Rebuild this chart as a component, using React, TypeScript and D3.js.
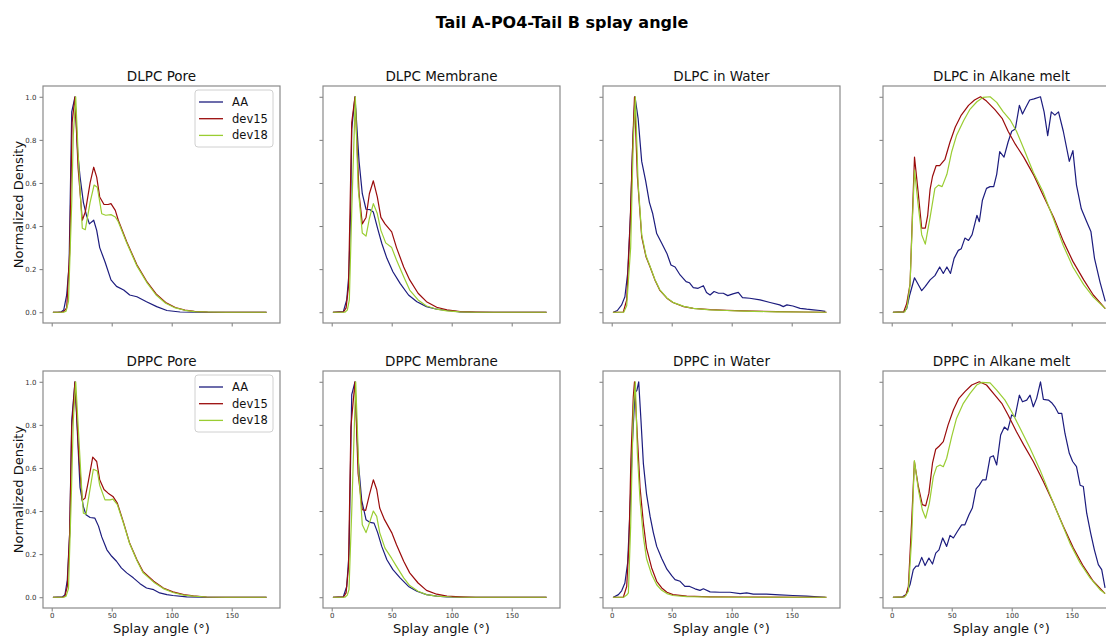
import React from 'react';
import * as d3 from 'd3';

// [angle, normalized density]
const dlpcPoreAA = [[1,0],[5,0],[8,0.002],[10,0.01],[12.5,0.08],[14.5,0.22],[16.7,0.93],[19.4,1.0],[21.7,0.74],[23.6,0.63],[26.4,0.51],[29,0.45],[31.4,0.41],[35,0.427],[37.5,0.38],[40,0.30],[44.4,0.234],[49.4,0.15],[54,0.12],[60,0.103],[65,0.08],[71,0.072],[79,0.049],[87.5,0.026],[96,0.008],[107,0.001],[120,0],[179,0]];
const dlpcPoreDev15 = [[1,0],[8,0],[10,0.003],[12.5,0.02],[15,0.28],[17,0.88],[19.4,1.0],[22,0.67],[25.5,0.427],[28,0.465],[32,0.60],[35,0.673],[37.5,0.627],[40,0.535],[43.6,0.50],[47,0.50],[49.4,0.504],[53,0.473],[55.5,0.427],[62.5,0.327],[71,0.22],[79,0.145],[87,0.085],[95,0.045],[103,0.022],[111,0.01],[119,0.004],[130,0.001],[145,0],[179,0]];
const dlpcPoreDev18 = [[1,0],[10,0],[12,0.005],[14,0.05],[16.7,0.51],[18,0.82],[20,1.0],[22,0.74],[23.6,0.57],[25.5,0.39],[28,0.383],[32,0.51],[35.3,0.59],[38,0.58],[41.7,0.457],[45,0.45],[49.4,0.453],[53,0.442],[55.5,0.42],[62.5,0.322],[71,0.215],[79,0.14],[87,0.08],[95,0.042],[103,0.02],[111,0.009],[119,0.003],[130,0.001],[145,0],[179,0]];

const dlpcMemAA = [[1,0],[9.7,0.003],[12.5,0.057],[14.4,0.18],[15.8,0.47],[16.7,0.85],[19.4,1.0],[22.8,0.70],[25.5,0.55],[28.6,0.478],[32,0.476],[34.7,0.465],[38.3,0.388],[41.7,0.32],[46,0.25],[51,0.188],[57,0.134],[64,0.08],[71,0.049],[79,0.026],[87.5,0.014],[96,0.008],[107,0.002],[120,0],[179,0]];
const dlpcMemDev15 = [[1,0],[10,0.002],[12,0.02],[14,0.12],[16.7,0.88],[19.4,1.0],[22.8,0.55],[25.5,0.41],[28.6,0.44],[31.4,0.55],[34.7,0.61],[38,0.535],[41,0.44],[44.4,0.41],[50,0.373],[54,0.30],[60,0.21],[65,0.15],[72,0.088],[79,0.049],[87.5,0.023],[96,0.011],[107,0.003],[120,0.001],[135,0],[179,0]];
const dlpcMemDev18 = [[1,0],[11,0],[13,0.01],[14.7,0.057],[16.7,0.47],[19.7,1.0],[22,0.58],[25.5,0.368],[28.6,0.353],[31.4,0.435],[34.7,0.504],[38,0.458],[41,0.38],[45,0.322],[50,0.30],[54,0.242],[60,0.165],[65,0.103],[72,0.057],[79,0.029],[87.5,0.014],[96,0.006],[107,0.002],[120,0],[179,0]];

const dlpcWaterAA = [[1.4,0],[4.7,0.008],[8.3,0.034],[11,0.072],[13.3,0.18],[15.8,0.47],[17.5,0.78],[19.4,1.0],[22,0.90],[25,0.70],[28.3,0.61],[31.4,0.51],[34.2,0.457],[37.5,0.365],[41.7,0.32],[46,0.273],[49.4,0.219],[52.8,0.21],[57,0.173],[62,0.142],[64.7,0.137],[68,0.114],[72,0.111],[76.4,0.123],[79,0.092],[82,0.08],[85.3,0.096],[89,0.088],[93,0.088],[96.7,0.077],[101,0.085],[105.5,0.092],[109,0.068],[115,0.065],[123.6,0.057],[132,0.045],[140,0.034],[143,0.026],[146,0.034],[151,0.029],[157,0.018],[162.5,0.014],[168,0.011],[173.6,0.008],[178,0.004]];
const dlpcWaterDev15 = [[1,0],[9.7,0.001],[12.5,0.057],[15.3,0.40],[17.5,0.78],[19,1.0],[21.4,0.63],[25,0.35],[28.6,0.257],[32,0.21],[36,0.15],[40,0.103],[46,0.065],[51,0.045],[60,0.026],[68,0.018],[82,0.012],[96,0.009],[110,0.006],[137.5,0.003],[160,0.001],[179,0]];
const dlpcWaterDev18 = [[1,0],[10,0],[12.5,0.03],[15.8,0.3],[18,0.8],[19.7,1.0],[22,0.6],[25,0.36],[28.6,0.262],[32,0.212],[36,0.152],[40,0.105],[46,0.066],[51,0.046],[60,0.027],[68,0.018],[82,0.011],[96,0.008],[110,0.005],[137.5,0.002],[160,0.001],[179,0]];

const dlpcAlkAA = [[1,0],[10,0.002],[12.5,0.017],[15,0.08],[19,0.16],[22,0.13],[25,0.10],[28,0.12],[32,0.15],[36,0.17],[40,0.21],[43,0.18],[46,0.21],[49,0.18],[52,0.25],[55.5,0.287],[58,0.295],[61,0.344],[64,0.333],[67,0.36],[71,0.45],[73,0.42],[75.6,0.52],[79,0.575],[82,0.583],[85,0.583],[87.5,0.64],[90,0.745],[93.6,0.72],[97,0.79],[100,0.84],[103,0.85],[106.4,0.96],[109,0.92],[111.7,0.95],[115,0.985],[118.6,0.99],[124,1.0],[127,0.93],[130,0.82],[133,0.93],[136,0.915],[139,0.93],[143,0.84],[148,0.70],[151,0.75],[154,0.59],[158,0.48],[162.5,0.42],[166,0.375],[169,0.25],[173.6,0.14],[178,0.05]];
const dlpcAlkDev15 = [[1,0],[10,0.002],[12.5,0.04],[15.3,0.13],[17.2,0.44],[19,0.72],[22,0.56],[25,0.39],[28,0.39],[30,0.45],[32,0.57],[34,0.63],[37,0.68],[40,0.68],[44.4,0.71],[48.6,0.79],[53,0.86],[58,0.915],[64,0.96],[69,0.985],[74,1.0],[79,0.98],[86,0.94],[92,0.9],[97,0.84],[103,0.78],[110,0.72],[118,0.64],[126,0.545],[135,0.44],[143,0.33],[151,0.236],[160,0.15],[168,0.08],[178,0.017]];
const dlpcAlkDev18 = [[1,0],[11,0.002],[13,0.03],[15.3,0.13],[17.2,0.42],[19,0.66],[22,0.5],[25,0.36],[28,0.316],[32,0.44],[36,0.575],[39,0.59],[42,0.583],[46,0.64],[50,0.745],[54,0.82],[60,0.89],[65,0.94],[71,0.977],[76,0.997],[82,1.0],[87.5,0.974],[93,0.93],[99,0.89],[104,0.84],[110,0.76],[118,0.65],[126,0.56],[135,0.43],[143,0.31],[151,0.21],[160,0.128],[168,0.07],[178,0.017]];

const dppcPoreAA = [[1,0],[9,0.002],[11,0.01],[13,0.08],[15,0.3],[16.7,0.82],[19.4,1.0],[23.6,0.51],[26.4,0.42],[28.6,0.383],[32,0.37],[36,0.367],[39,0.33],[41.7,0.28],[46,0.22],[50,0.19],[54,0.167],[58,0.136],[62.5,0.113],[68,0.09],[73.6,0.063],[79,0.043],[85,0.035],[90,0.02],[96,0.012],[101,0.008],[112.5,0.002],[125,0],[179,0]];
const dppcPoreDev15 = [[1,0],[9,0],[11,0.005],[13,0.05],[15,0.3],[16.7,0.79],[19.4,1.0],[22.8,0.64],[25.5,0.45],[27.8,0.46],[30.5,0.537],[34.2,0.65],[37.5,0.63],[40,0.545],[43.6,0.50],[47,0.483],[51,0.468],[54.7,0.437],[60,0.344],[65,0.25],[71,0.174],[76,0.12],[85,0.074],[93,0.043],[101,0.025],[110,0.012],[118,0.006],[129,0.001],[145,0],[179,0]];
const dppcPoreDev18 = [[1,0],[10,0],[12,0.005],[14,0.04],[16.5,0.5],[18,0.82],[20,1.0],[22.8,0.72],[25,0.5],[26.4,0.39],[28.6,0.386],[31.4,0.483],[34.7,0.594],[38,0.586],[40,0.52],[44.4,0.452],[48.6,0.452],[51,0.455],[54.7,0.43],[60,0.34],[65,0.248],[71,0.17],[76,0.115],[85,0.07],[93,0.04],[101,0.022],[110,0.01],[118,0.005],[129,0.001],[145,0],[179,0]];

const dppcMemAA = [[1,0],[9.7,0.002],[12.5,0.05],[14.4,0.2],[16.7,0.94],[19.4,1.0],[22,0.64],[25,0.45],[28.6,0.36],[32,0.347],[35.3,0.344],[38.3,0.30],[41.7,0.236],[46,0.174],[51,0.128],[57,0.09],[64,0.05],[71,0.028],[79,0.012],[87.5,0.005],[96,0.002],[110,0],[179,0]];
const dppcMemDev15 = [[1,0],[10,0.002],[12,0.02],[14,0.14],[16,0.79],[19.4,1.0],[22,0.575],[25.5,0.406],[28.3,0.403],[31.4,0.475],[34.7,0.545],[37.5,0.50],[40,0.414],[44,0.36],[50,0.30],[54,0.244],[60,0.167],[65,0.113],[72,0.066],[79,0.032],[87.5,0.014],[96,0.005],[107,0.002],[120,0],[179,0]];
const dppcMemDev18 = [[1,0],[11,0],[13,0.01],[14.4,0.035],[16.7,0.4],[20,1.0],[22.8,0.56],[25.5,0.336],[28.6,0.30],[31.4,0.344],[34.7,0.40],[37.5,0.375],[40,0.30],[44.4,0.228],[50,0.18],[54,0.143],[60,0.09],[65,0.054],[72,0.028],[79,0.012],[87.5,0.005],[100,0.001],[115,0],[179,0]];

const dppcWaterAA = [[1.4,0],[5.6,0.012],[8.3,0.03],[11,0.066],[13.3,0.16],[15.3,0.41],[17.2,0.71],[19.4,0.95],[21,0.96],[22.5,1.0],[24.4,0.82],[26.4,0.62],[29,0.48],[32,0.375],[34.7,0.30],[37.5,0.236],[41.7,0.18],[46,0.13],[50,0.1],[52.8,0.082],[57,0.074],[61,0.05],[65,0.05],[69.4,0.039],[73.6,0.032],[76.4,0.039],[82,0.025],[90,0.023],[98.6,0.023],[107,0.017],[112.5,0.02],[118,0.014],[129,0.014],[140,0.011],[151,0.008],[162.5,0.005],[178,0]];
const dppcWaterDev15 = [[1,0],[9.7,0],[12.5,0.05],[14.4,0.25],[16,0.64],[18,0.93],[19,1.0],[21.4,0.745],[23.6,0.51],[26.4,0.344],[29,0.228],[33.3,0.136],[37.5,0.074],[41.7,0.043],[46,0.023],[51,0.012],[62.5,0.005],[82,0.002],[110,0.001],[179,0]];
const dppcWaterDev18 = [[1,0],[10,0],[12.5,0.01],[13.9,0.02],[15.8,0.33],[18,0.87],[19.7,1.0],[21.4,0.67],[23.6,0.45],[26.4,0.28],[29,0.18],[33.3,0.105],[37.5,0.058],[41.7,0.032],[46,0.017],[51,0.008],[62.5,0.003],[82,0.001],[110,0],[179,0]];

const dppcAlkAA = [[1,0],[8.3,0],[12,0.012],[15.3,0.059],[18,0.128],[20.3,0.144],[22.2,0.144],[25,0.185],[27.8,0.147],[31,0.182],[34,0.154],[36.7,0.205],[39.4,0.22],[42.5,0.275],[45.8,0.236],[48.6,0.287],[51.4,0.275],[54.7,0.305],[58.3,0.336],[61,0.336],[64.4,0.383],[67.2,0.414],[70.3,0.503],[73,0.52],[75.8,0.545],[78.6,0.545],[82,0.65],[84.7,0.657],[87.5,0.614],[90.8,0.753],[93.9,0.79],[96.7,0.776],[100,0.846],[102.8,0.838],[106.4,0.938],[109,0.907],[112.5,0.915],[115.3,0.938],[118,0.884],[120.8,0.923],[124,1.0],[126.4,0.918],[130.6,0.915],[133.3,0.903],[136,0.884],[139,0.853],[141.7,0.853],[144.4,0.76],[148,0.668],[150.8,0.63],[154,0.606],[157,0.52],[159.7,0.514],[162.5,0.39],[165.8,0.298],[168.9,0.22],[172.2,0.151],[175,0.128],[177.8,0.043]];
const dppcAlkDev15 = [[1,0],[10,0.002],[12,0.012],[13.9,0.05],[16.7,0.36],[18.9,0.63],[22.2,0.514],[25.5,0.43],[28.3,0.424],[31,0.483],[34,0.622],[36.7,0.687],[39.7,0.702],[43,0.722],[47,0.8],[51.4,0.869],[56,0.923],[61,0.954],[66.7,0.985],[73,1.0],[79,0.985],[86,0.938],[91.7,0.9],[97,0.846],[104,0.768],[110,0.707],[118,0.63],[126.4,0.537],[134.7,0.437],[143,0.329],[151.4,0.228],[159.7,0.144],[168,0.074],[177.8,0.017]];
const dppcAlkDev18 = [[1,0],[11,0.002],[13.9,0.028],[16.7,0.28],[18.9,0.634],[22.2,0.5],[25.5,0.406],[28.3,0.367],[31.4,0.437],[34.7,0.56],[37.5,0.606],[40.3,0.614],[43,0.606],[45.8,0.645],[50,0.745],[54,0.83],[59.7,0.9],[65.3,0.946],[70.8,0.985],[75,0.997],[82,0.995],[87.5,0.961],[94.4,0.915],[100,0.861],[107,0.784],[115.3,0.691],[123.6,0.591],[132,0.475],[140,0.367],[148.6,0.25],[157,0.159],[165.3,0.09],[173.6,0.035],[177.8,0.017]];

const seriesNames = ['AA', 'dev15', 'dev18'];
const seriesColors = ['#1c1c7e', '#9a0b0b', '#9acd32'];
const xTicks = [0, 50, 100, 150];
const yTicks = [0, 0.2, 0.4, 0.6, 0.8, 1.0];

const panels = [
  { title: 'DLPC Pore', row: 0, col: 0, data: [dlpcPoreAA, dlpcPoreDev15, dlpcPoreDev18], legend: true },
  { title: 'DLPC Membrane', row: 0, col: 1, data: [dlpcMemAA, dlpcMemDev15, dlpcMemDev18] },
  { title: 'DLPC in Water', row: 0, col: 2, data: [dlpcWaterAA, dlpcWaterDev15, dlpcWaterDev18] },
  { title: 'DLPC in Alkane melt', row: 0, col: 3, data: [dlpcAlkAA, dlpcAlkDev15, dlpcAlkDev18] },
  { title: 'DPPC Pore', row: 1, col: 0, data: [dppcPoreAA, dppcPoreDev15, dppcPoreDev18], legend: true },
  { title: 'DPPC Membrane', row: 1, col: 1, data: [dppcMemAA, dppcMemDev15, dppcMemDev18] },
  { title: 'DPPC in Water', row: 1, col: 2, data: [dppcWaterAA, dppcWaterDev15, dppcWaterDev18] },
  { title: 'DPPC in Alkane melt', row: 1, col: 3, data: [dppcAlkAA, dppcAlkDev15, dppcAlkDev18] },
];

const W = 1106, H = 636;
const axW = 237, axH = 237;
const colLeft = (c) => 43 + c * 280;
const rowTop = [86, 371];
const font = 'DejaVu Sans, sans-serif';

const x = d3.scaleLinear().domain([-7.25, 190.25]).range([0, axW]);
const y = d3.scaleLinear().domain([-0.05, 1.05]).range([axH, 0]);
const line = d3.line().x((d) => x(d[0])).y((d) => y(d[1]));

const styleAxis = (sel) => {
  sel.select('.domain').remove();
  sel.selectAll('.tick line').attr('stroke', '#7a7a7a').attr('stroke-width', 1);
  sel.selectAll('.tick text').attr('fill', '#333').attr('font-size', 7).attr('font-family', font);
};

const Panel = ({ p }) => {
  const left = colLeft(p.col), top = rowTop[p.row];
  return (
    <g transform={`translate(${left},${top})`}>
      <g transform={`translate(0,${axH})`}
        ref={(node) => node && d3.select(node)
          .call(d3.axisBottom(x).tickValues(xTicks).tickSize(3.5).tickPadding(1.5)
            .tickFormat(p.row === 1 ? d3.format('d') : () => ''))
          .call(styleAxis)} />
      <g ref={(node) => node && d3.select(node)
          .call(d3.axisLeft(y).tickValues(yTicks).tickSize(3.5).tickPadding(3)
            .tickFormat(p.col === 0 ? d3.format('.1f') : () => ''))
          .call(styleAxis)} />
      {p.data.map((s, i) => (
        <path key={seriesNames[i]} d={line(s)} fill="none" stroke={seriesColors[i]}
          strokeWidth={1.2} strokeLinejoin="round" />
      ))}
      <rect x={0} y={0} width={axW} height={axH} fill="none" stroke="#8a8a8a" strokeWidth={1.2} />
      <text x={axW / 2} y={-5} textAnchor="middle" fontSize={13.5} fontFamily={font} fill="#111">{p.title}</text>
      {p.row === 1 && (
        <text x={axW / 2} y={axH + 24.5} textAnchor="middle" fontSize={13} fontFamily={font} fill="#111">Splay angle (°)</text>
      )}
      {p.col === 0 && (
        <text transform={`translate(-20,${axH / 2}) rotate(-90)`} textAnchor="middle" fontSize={13}
          fontFamily={font} fill="#111">Normalized Density</text>
      )}
      {p.legend && (
        <g transform={`translate(${axW - 85},4)`}>
          <rect x={0} y={0} width={78} height={57} rx={3} fill="white" fillOpacity={0.8} stroke="#d0d0d0" />
          {seriesNames.map((n, i) => (
            <g key={n} transform={`translate(0,${12 + i * 16.7})`}>
              <line x1={4} x2={28} y1={0} y2={0} stroke={seriesColors[i]} strokeWidth={1.3} />
              <text x={37} y={4} fontSize={11.5} fontFamily={font} fill="#111">{n}</text>
            </g>
          ))}
        </g>
      )}
    </g>
  );
};

export default function App() {
  return (
    <svg width={W} height={H} style={{ position: 'absolute', left: 0, top: 0, background: 'white' }}>
      <rect width={W} height={H} fill="white" />
      <text x={562} y={28} textAnchor="middle" fontSize={16} fontWeight="bold" fontFamily={font} fill="#000">
        Tail A-PO4-Tail B splay angle
      </text>
      {panels.map((p) => <Panel key={p.title} p={p} />)}
    </svg>
  );
}
